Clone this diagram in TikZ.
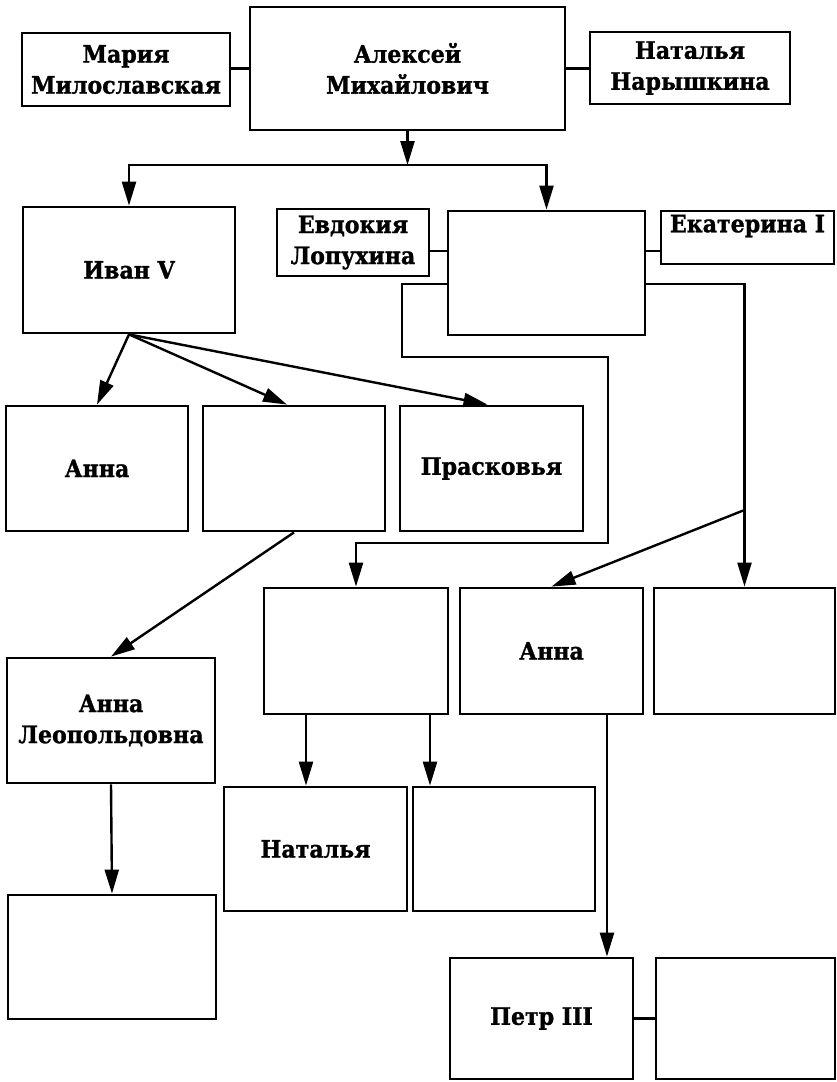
\documentclass[tikz,border=0pt]{standalone}
\usepackage{fontspec}
\setmainfont{DejaVu Serif}[FakeStretch=0.92, BoldFeatures={FakeBold=1.2}]
\usetikzlibrary{arrows.meta,calc}
\begin{document}
\begin{tikzpicture}[x=1pt,y=-1pt,
  box/.style={draw, line width=2.8pt, inner sep=0pt, align=center,
    font=\bfseries\fontsize{24}{31}\selectfont},
  txt/.style={inner sep=0pt, align=center, font=\bfseries\fontsize{24}{31}\selectfont},
  link/.style={line width=2.4pt},
  arr/.style={link, -{Triangle[length=24pt,width=14pt]}},
]
\useasboundingbox (0,0) rectangle (837,1082);
\fill[white] (0,0) rectangle (837,1082);
% boxes
\node[box, minimum width=208, minimum height=73] (maria) at (126,69.5) {Мария\\Милославская};
\node[box, minimum width=315, minimum height=123] (alexey) at (407.5,68.5) {Алексей\\Михайлович};
\node[box, minimum width=200, minimum height=72] (natalya) at (690,68) {Наталья\\Нарышкина};
\node[box, minimum width=212, minimum height=126] (ivan) at (129,270) {Иван V};
\node[box, minimum width=152, minimum height=67] (evdokia) at (353,242.5) {Евдокия\\Лопухина};
\node[box, minimum width=197, minimum height=124] (peter1) at (546.5,273) {};
\node[box, minimum width=173, minimum height=53] (ekat) at (747.5,237.5) {};
\node[txt] (ekattxt) at (747.5,226) {Екатерина I};
\node[box, minimum width=182, minimum height=125] (anna1) at (97,468.5) {Анна};
\node[box, minimum width=182, minimum height=125] (box2) at (294,468.5) {};
\node[box, minimum width=183, minimum height=125] (prask) at (491.5,468.5) {Прасковья};
\node[box, minimum width=184, minimum height=126] (rowA) at (356,651) {};
\node[box, minimum width=183, minimum height=126] (anna2) at (551.5,651) {Анна};
\node[box, minimum width=181, minimum height=126] (rowC) at (744.5,651) {};
\node[box, minimum width=208, minimum height=125] (annaL) at (111,720.5) {Анна\\Леопольдовна};
\node[box, minimum width=183, minimum height=124] (natalia2) at (315.5,849) {Наталья};
\node[box, minimum width=182, minimum height=124] (box4) at (504,849) {};
\node[box, minimum width=208, minimum height=124] (bl) at (112,957) {};
\node[box, minimum width=183, minimum height=121] (petr3) at (541.5,1018.5) {Петр III};
\node[box, minimum width=179, minimum height=121] (rb) at (745.5,1018.5) {};
% helper coordinates
\coordinate (j1) at (407.5,165);
\coordinate (c1) at (0,251);
\coordinate (c2) at (0,284);
\coordinate (k1) at (402,357);
\coordinate (k2) at (608,543);
\coordinate (k3) at (744.5,510);
\coordinate (xa) at (306,0);
\coordinate (xb) at (430,0);
\coordinate (xc) at (607,0);
% connectors
\draw[link] (maria.east |- alexey.west) -- (alexey.west);
\draw[link] (alexey.east) -- (alexey.east -| natalya.west);
\draw[arr] (alexey.south) -- (j1);
\draw[arr] (j1) -| (ivan.north);
\draw[arr] (j1) -| (peter1.north);
\draw[link] (c1 -| evdokia.east) -- (c1 -| peter1.west);
\draw[link] (c1 -| peter1.east) -- (c1 -| ekat.west);
\draw[arr] (c2 -| peter1.west) -| (k1) -| (k2) -| (rowA.north);
\draw[arr] (c2 -| peter1.east) -| (rowC.north);
\draw[arr] (k3) -- (anna2.north);
\draw[arr] (ivan.south) -- (anna1.north);
\draw[arr] (ivan.south) -- ([xshift=-7]box2.north);
\draw[arr] (ivan.south) -- ([xshift=-4]prask.north);
\draw[arr] (box2.south) -- (annaL.north);
\draw[arr] (xa |- rowA.south) -- (xa |- natalia2.north);
\draw[arr] (xb |- rowA.south) -- (xb |- box4.north);
\draw[arr] (annaL.south) -- (bl.north);
\draw[arr] (xc |- anna2.south) -- (xc |- petr3.north);
\draw[link] (petr3.east) -- (petr3.east -| rb.west);
\end{tikzpicture}
\end{document}
